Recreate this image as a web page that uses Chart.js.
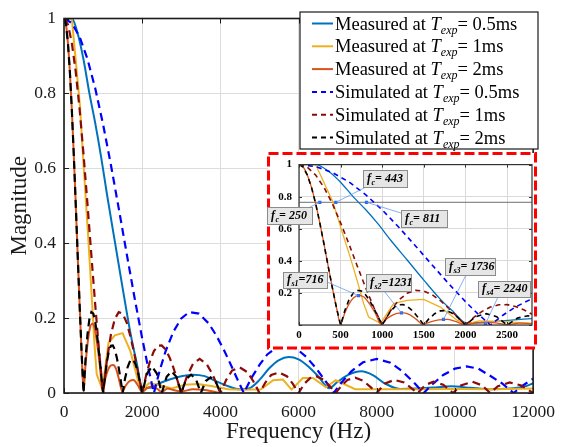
<!DOCTYPE html>
<html>
<head>
<meta charset="utf-8">
<script src="https://cdn.jsdelivr.net/npm/chart.js@4.4.1/dist/chart.umd.min.js"></script>
<style>
  html, body { margin: 0; padding: 0; background: #fff; }
  #wrap { position: relative; width: 564px; height: 447px; }
  #mainChart { position: absolute; left: 0; top: 0; }
  #zoomChart { position: absolute; left: 266px; top: 151px; }
</style>
</head>
<body>
<div id="wrap">
  <canvas id="mainChart" width="564" height="447"></canvas>
  <canvas id="zoomChart" width="272" height="200"></canvas>
</div>
<script>
// [frequency Hz, magnitude] pairs for each curve
const measured05 = [[0,1],[200,1],[350,0.96],[500,0.89],[650,0.8],[800,0.72],[950,0.63],[1100,0.53],[1300,0.405],[1500,0.28],[1700,0.16],[1860,0.08],[2000,0.015],[2200,0.014],[2400,0.024],[2700,0.036],[3000,0.045],[3300,0.049],[3600,0.045],[3900,0.031],[4200,0.018],[4500,0.01],[4750,0.013],[5000,0.035],[5250,0.066],[5500,0.088],[5750,0.096],[6000,0.09],[6250,0.071],[6500,0.045],[6780,0.013],[7000,0.03],[7300,0.05],[7600,0.058],[7900,0.048],[8200,0.026],[8600,0.011],[9000,0.012],[9500,0.015],[9900,0.018],[10400,0.014],[10900,0.01],[11400,0.012],[11800,0.018],[12000,0.026]];

const measured1 = [[0,1],[200,1],[408,0.767],[500,0.61],[617,0.42],[697,0.28],[777,0.133],[837,0.05],[980,0.01],[1137,0.133],[1298,0.154],[1498,0.16],[1698,0.112],[1899,0.03],[2000,0.006],[2166,0.026],[2418,0.022],[2754,0.012],[3090,0.022],[3425,0.024],[3800,0.018],[4200,0.01],[4600,0.009],[5040,0.01],[5350,0.034],[5600,0.036],[5820,0.009],[6110,0.04],[6370,0.04],[6700,0.015],[6950,0.034],[7450,0.01],[8000,0.01],[9000,0.01],[10000,0.011],[11000,0.01],[12000,0.012]];

const measured2 = [[0,1],[50,0.985],[100,0.935],[150,0.858],[200,0.757],[250,0.637],[300,0.505],[350,0.368],[400,0.234],[450,0.109],[500,0.005],[550,0.075],[600,0.13],[650,0.167],[717,0.185],[780,0.175],[850,0.13],[920,0.07],[985,0.005],[1060,0.04],[1130,0.063],[1200,0.074],[1258,0.075],[1330,0.065],[1410,0.035],[1490,0.004],[1580,0.02],[1680,0.032],[1779,0.035],[1880,0.022],[2000,0.003],[2120,0.012],[2250,0.018],[2400,0.01],[2500,0.003],[2650,0.012],[2800,0.008],[3000,0.004],[3300,0.01],[3600,0.008],[4000,0]];

const simulated05 = [[0,1],[200,0.988],[400,0.951],[600,0.892],[800,0.813],[1000,0.717],[1200,0.609],[1400,0.493],[1600,0.374],[1800,0.257],[2000,0.146],[2150,0.069],[2300,0],[2450,0.061],[2600,0.112],[2800,0.164],[3000,0.199],[3200,0.216],[3450,0.212],[3700,0.186],[3900,0.153],[4100,0.113],[4300,0.068],[4450,0.033],[4600,0],[4800,0.041],[5000,0.075],[5200,0.103],[5450,0.123],[5700,0.128],[5950,0.118],[6200,0.096],[6450,0.066],[6700,0.03],[6900,0],[7100,0.028],[7350,0.058],[7650,0.082],[8000,0.091],[8350,0.081],[8650,0.058],[8950,0.028],[9200,0],[9400,0.021],[9700,0.048],[10000,0.065],[10300,0.071],[10600,0.065],[10900,0.046],[11200,0.026],[11500,0],[11750,0.021],[12000,0.038]];

const simulated1 = [[0,1],[100,0.984],[200,0.935],[300,0.858],[400,0.757],[500,0.637],[600,0.505],[700,0.368],[800,0.234],[900,0.109],[1000,0],[1100,0.089],[1200,0.156],[1300,0.198],[1400,0.216],[1500,0.212],[1600,0.189],[1700,0.151],[1800,0.104],[1900,0.052],[2000,0],[2100,0.047],[2200,0.085],[2300,0.112],[2400,0.126],[2500,0.127],[2600,0.116],[2700,0.095],[2800,0.067],[2900,0.034],[3000,0],[3150,0.046],[3300,0.078],[3470,0.091],[3650,0.077],[3800,0.05],[4000,0],[4150,0.035],[4300,0.06],[4500,0.068],[4700,0.055],[4850,0.03],[5000,0],[5150,0.028],[5300,0.048],[5500,0.055],[5700,0.045],[5850,0.025],[6000,0],[6150,0.025],[6300,0.04],[6450,0.045],[6650,0.035],[6800,0.018],[6950,0],[7100,0.02],[7250,0.035],[7450,0.041],[7650,0.033],[7850,0.015],[8000,0],[8200,0.025],[8450,0.035],[8700,0.028],[8900,0.012],[9050,0],[9250,0.022],[9450,0.03],[9700,0.022],[9950,0],[10150,0.02],[10450,0.03],[10700,0.02],[10900,0],[11100,0.018],[11400,0.028],[11700,0.02],[12000,0]];

const simulated2 = [[0,1],[50,0.984],[100,0.935],[150,0.858],[200,0.757],[250,0.637],[300,0.505],[350,0.368],[400,0.234],[450,0.109],[500,0],[550,0.089],[600,0.156],[650,0.198],[700,0.216],[750,0.212],[800,0.189],[850,0.151],[900,0.104],[950,0.052],[1000,0],[1050,0.045],[1100,0.085],[1150,0.113],[1200,0.126],[1250,0.127],[1300,0.116],[1350,0.095],[1400,0.067],[1450,0.035],[1500,0],[1560,0.038],[1630,0.07],[1700,0.088],[1760,0.09],[1830,0.077],[1900,0.05],[2000,0],[2125,0.052],[2250,0.071],[2375,0.052],[2500,0],[2625,0.043],[2750,0.058],[2875,0.043],[3000,0],[3125,0.037],[3250,0.049],[3375,0.037],[3500,0],[3625,0.032],[3750,0.042],[3875,0.032],[4000,0]];

// cut-off and side-lobe annotations of the zoomed view
const cutoffLevel = 0.765;
const cutoffFreqs = [250, 443, 811];
const sidelobeFreqs = [716, 1231, 1736, 2240];
const sidelobeMags = [0.183, 0.075, 0.035, 0.006];

const exposures = ['0.5ms', '1ms', '2ms'];
const mainXTicks = [0, 2000, 4000, 6000, 8000, 10000, 12000];
const zoomXTicks = [0, 500, 1000, 1500, 2000, 2500];
const zoomXMax = 2800;

const SERIF = '"Liberation Serif", "Times New Roman", serif';
Chart.defaults.font.family = SERIF;
Chart.defaults.color = '#1a1a1a';

const xy = pts => pts.map(p => ({ x: p[0], y: p[1] }));

function curveSets(solidW, dashW, dash) {
  const base = { pointRadius: 0, fill: false, tension: 0 };
  return [
    { ...base, label: 'Measured', data: xy(measured05), borderColor: '#0072BD', borderWidth: solidW, cubicInterpolationMode: 'monotone', order: 6 },
    { ...base, label: 'Measured', data: xy(measured1), borderColor: '#EDB120', borderWidth: solidW, order: 5 },
    { ...base, label: 'Measured', data: xy(measured2), borderColor: '#D95319', borderWidth: solidW, cubicInterpolationMode: 'monotone', order: 4 },
    { ...base, label: 'Simulated', data: xy(simulated05), borderColor: '#0000FF', borderWidth: dashW, borderDash: dash, order: 3 },
    { ...base, label: 'Simulated', data: xy(simulated1), borderColor: '#8B0A0A', borderWidth: dashW, borderDash: dash, order: 2 },
    { ...base, label: 'Simulated', data: xy(simulated2), borderColor: '#000000', borderWidth: dashW, borderDash: dash, order: 1 }
  ];
}

// box around the plot area with inward tick marks
const framePlugin = {
  id: 'frame',
  afterDatasetsDraw(chart, args, opts) {
    const { ctx, chartArea: a, scales: { x, y } } = chart;
    ctx.save();
    ctx.strokeStyle = opts.color;
    ctx.lineWidth = 1;
    ctx.beginPath();
    x.ticks.forEach(t => {
      const px = Math.round(x.getPixelForValue(t.value)) + 0.5;
      ctx.moveTo(px, a.bottom); ctx.lineTo(px, a.bottom - opts.tick);
      ctx.moveTo(px, a.top); ctx.lineTo(px, a.top + opts.tick);
    });
    y.ticks.forEach(t => {
      const py = Math.round(y.getPixelForValue(t.value)) + 0.5;
      ctx.moveTo(a.left, py); ctx.lineTo(a.left + opts.tick, py);
      ctx.moveTo(a.right, py); ctx.lineTo(a.right - opts.tick, py);
    });
    ctx.stroke();
    ctx.lineWidth = opts.width;
    ctx.strokeRect(a.left, a.top, a.right - a.left, a.bottom - a.top);
    ctx.restore();
  }
};

// legend with T_exp written as italic T and subscript
const texLegend = {
  id: 'texLegend',
  afterDraw(chart) {
    const ctx = chart.ctx;
    const bx = 300, by = 12, bw = 238, bh = 137;
    ctx.save();
    ctx.fillStyle = '#fff';
    ctx.fillRect(bx, by, bw, bh);
    ctx.strokeStyle = '#1a1a1a';
    ctx.lineWidth = 1.2;
    ctx.strokeRect(bx, by, bw, bh);
    chart.data.datasets.slice(0, 6).forEach((ds, i) => {
      const cy = by + 11.5 + i * 22.8;
      ctx.strokeStyle = ds.borderColor;
      ctx.lineWidth = 2;
      ctx.setLineDash(ds.borderDash ? [5, 4] : []);
      ctx.beginPath();
      ctx.moveTo(312, cy); ctx.lineTo(333, cy);
      ctx.stroke();
      ctx.setLineDash([]);
      ctx.fillStyle = '#000';
      ctx.textBaseline = 'alphabetic';
      ctx.textAlign = 'left';
      const base = cy + 6;
      let x = 335;
      ctx.font = '18.5px ' + SERIF;
      const head = ds.label + ' at ';
      ctx.fillText(head, x, base); x += ctx.measureText(head).width;
      ctx.font = 'italic 18.5px ' + SERIF;
      ctx.fillText('T', x, base); x += ctx.measureText('T').width;
      ctx.font = 'italic 12px ' + SERIF;
      ctx.fillText('exp', x, base + 4); x += ctx.measureText('exp').width;
      ctx.font = '18.5px ' + SERIF;
      ctx.fillText('= ' + exposures[i % 3], x, base);
    });
    ctx.restore();
  }
};

new Chart(document.getElementById('mainChart'), {
  type: 'line',
  data: { datasets: curveSets(2, 2.2, [8, 5]) },
  options: {
    responsive: false,
    animation: false,
    events: [],
    layout: { padding: { top: 11, right: 24, left: 0, bottom: 0 } },
    scales: {
      x: {
        type: 'linear', min: 0, max: 12000,
        afterFit: s => { s.height = 54; },
        afterBuildTicks: s => { s.ticks = mainXTicks.map(v => ({ value: v })); },
        grid: { color: '#dcdcdc', lineWidth: 1, drawTicks: false },
        border: { display: false },
        ticks: { padding: 9, font: { size: 17.5 }, maxRotation: 0, callback: v => String(v) },
        title: { display: true, text: 'Frequency (Hz)', font: { size: 23 }, padding: { top: 0, bottom: 1 } }
      },
      y: {
        min: 0, max: 1,
        afterFit: s => { s.width = 64; },
        grid: { color: '#dcdcdc', lineWidth: 1, drawTicks: false },
        border: { display: false },
        ticks: { stepSize: 0.2, padding: 8, font: { size: 17.5 }, callback: v => String(+v.toFixed(1)) },
        title: { display: true, text: 'Magnitude', font: { size: 23 }, padding: { top: 6, bottom: 0 } }
      }
    },
    plugins: {
      legend: { display: false },
      tooltip: { enabled: false },
      frame: { color: '#1a1a1a', width: 1.6, tick: 5 }
    }
  },
  plugins: [framePlugin, texLegend]
});

// tag boxes of the zoomed view, in its canvas pixels
const tagBoxes = [
  { x: 1, y: 56, w: 45, h: 17, ax: 44, ay: 56 },
  { x: 97, y: 19, w: 44, h: 17, ax: 100, ay: 36 },
  { x: 135, y: 59, w: 46, h: 17, ax: 135, ay: 62 },
  { x: 17, y: 121, w: 44, h: 16, ax: 61, ay: 131 },
  { x: 100, y: 123, w: 45, h: 17, ax: 118, ay: 140 },
  { x: 179, y: 107, w: 50, h: 17, ax: 200, ay: 124 },
  { x: 212, y: 130, w: 52, h: 16, ax: 232, ay: 146 }
];
const tagTexts = cutoffFreqs.map(f => ({ sub: 'c', val: '= ' + f }))
  .concat(sidelobeFreqs.map((f, i) => ({ sub: 's' + (i + 1), val: (i < 2 ? '=' : '= ') + f })));

const zoomDecor = {
  id: 'zoomDecor',
  beforeDraw(chart) {
    const ctx = chart.ctx;
    ctx.save();
    ctx.fillStyle = '#fff';
    ctx.fillRect(2, 2, 268, 196);
    ctx.strokeStyle = '#ff0000';
    ctx.lineWidth = 3;
    ctx.setLineDash([10, 4]);
    ctx.strokeRect(2.5, 2.5, 267, 194.5);
    ctx.restore();
  },
  afterDraw(chart) {
    const ctx = chart.ctx;
    const pts = chart.getDatasetMeta(7).data;
    ctx.save();
    ctx.strokeStyle = 'rgba(90,150,240,0.75)';
    ctx.lineWidth = 1;
    tagBoxes.forEach((b, i) => {
      ctx.beginPath();
      ctx.moveTo(b.ax, b.ay);
      ctx.lineTo(pts[i].x, pts[i].y);
      ctx.stroke();
    });
    tagBoxes.forEach((b, i) => {
      ctx.fillStyle = '#e6e6e6';
      ctx.fillRect(b.x, b.y, b.w, b.h);
      ctx.strokeStyle = '#8c8c8c';
      ctx.strokeRect(b.x + 0.5, b.y + 0.5, b.w, b.h);
      ctx.fillStyle = '#000';
      ctx.textAlign = 'left';
      ctx.textBaseline = 'alphabetic';
      const base = b.y + b.h - 5;
      let x = b.x + 4;
      ctx.font = 'italic bold 12px ' + SERIF;
      ctx.fillText('f', x, base); x += ctx.measureText('f').width + 0.5;
      ctx.font = 'italic bold 8px ' + SERIF;
      ctx.fillText(tagTexts[i].sub, x, base + 3); x += ctx.measureText(tagTexts[i].sub).width;
      ctx.font = 'italic bold 12px ' + SERIF;
      ctx.fillText(tagTexts[i].val, x, base);
    });
    ctx.restore();
  }
};

const markerPoints = cutoffFreqs.map(f => ({ x: f, y: cutoffLevel }))
  .concat(sidelobeFreqs.map((f, i) => ({ x: f, y: sidelobeMags[i] })));

new Chart(document.getElementById('zoomChart'), {
  type: 'line',
  data: {
    datasets: curveSets(1.3, 1.6, [5, 4]).concat([
      { label: 'level', data: [{ x: 0, y: cutoffLevel }, { x: zoomXMax, y: cutoffLevel }], borderColor: '#6e6e6e', borderWidth: 1, pointRadius: 0, order: 7 },
      { label: 'marks', type: 'scatter', data: markerPoints, pointStyle: 'rect', pointRadius: 2.3, backgroundColor: '#2a6cf0', borderColor: '#2a6cf0', borderWidth: 0, order: 0 }
    ])
  },
  options: {
    responsive: false,
    animation: false,
    events: [],
    layout: { padding: { top: 13, right: 6, left: 0, bottom: 0 } },
    scales: {
      x: {
        type: 'linear', min: 0, max: zoomXMax,
        afterFit: s => { s.height = 26; },
        afterBuildTicks: s => { s.ticks = zoomXTicks.map(v => ({ value: v })); },
        grid: { color: '#d9d9d9', lineWidth: 1, drawTicks: false },
        border: { display: false },
        ticks: { padding: 4, font: { size: 11, weight: 'bold' }, color: '#000', maxRotation: 0, callback: v => String(v) }
      },
      y: {
        min: 0, max: 1,
        afterFit: s => { s.width = 33; },
        grid: { color: '#d9d9d9', lineWidth: 1, drawTicks: false },
        border: { display: false },
        ticks: { stepSize: 0.2, padding: 7, font: { size: 11, weight: 'bold' }, color: '#000', callback: v => (v === 0 ? '' : String(+v.toFixed(1))) }
      }
    },
    plugins: {
      legend: { display: false },
      tooltip: { enabled: false },
      frame: { color: '#333', width: 1.2, tick: 3 }
    }
  },
  plugins: [zoomDecor, framePlugin]
});
</script>
</body>
</html>
